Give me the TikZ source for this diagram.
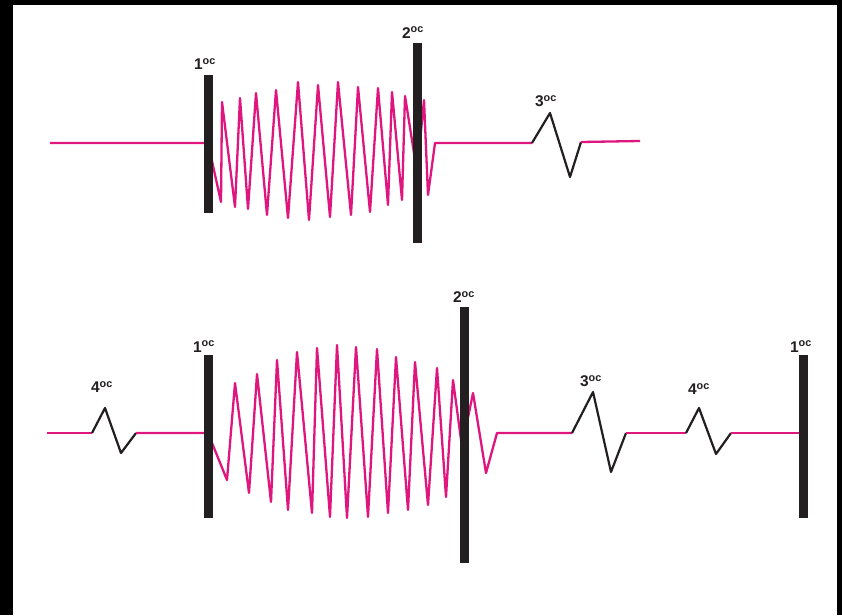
\documentclass[tikz,border=0pt]{standalone}
\usepackage{fontspec}
\setmainfont{Liberation Sans}
\usepackage{xcolor}
\usepackage{tikz}
\definecolor{wavepink}{HTML}{E0167F}
\definecolor{bargrey}{HTML}{231F20}
\usetikzlibrary{positioning}

\begin{document}
\begin{tikzpicture}[x=1pt,y=-1pt,
  bar/.style={fill=bargrey,inner sep=0pt,minimum width=9pt},
  lbl/.style={font=\fontsize{15.5}{15.5}\selectfont\bfseries,inner sep=1pt,text=bargrey},
  wave/.style={draw=wavepink,line width=2.3pt,line join=round},
  kink/.style={draw=bargrey,line width=2.2pt,line join=round}]
% frame
\fill[black] (0,0) rectangle (842,615);
\fill[white] (13,5) rectangle (837,615);
% top row
\coordinate (ta) at (50,143);
\coordinate (t1c) at (208,143);
\coordinate (tk) at (532,143);
\coordinate (tke) at (581,142);
\coordinate (tz) at (640,141);
\draw[wave] (ta) -- (t1c) -- (221,202) -- (222,102) -- (235,207) -- (240,98)
  -- (248,209) -- (256,93) -- (267,215) -- (276,90) -- (288,218) -- (298,82)
  -- (309,220) -- (318,85) -- (330,217) -- (338,82) -- (351,215) -- (358,87)
  -- (370,212) -- (378,88) -- (388,205) -- (392,92) -- (402,200) -- (405,96)
  -- (417,172) -- (424,100) -- (428,195) -- (435,143) -- (tk);
\draw[kink] (tk) -- (550,113) coordinate (tp) -- (570,177) -- (tke);
\draw[wave] (tke) -- (tz);
\node[bar,minimum height=138pt] (t1) at (208,144) {};
\node[bar,minimum height=199pt] (t2) at (417,143) {};
% bottom row
\coordinate (ba) at (47,433);
\coordinate (bk1) at (92,433);
\coordinate (bk1e) at (136,433);
\coordinate (b1c) at (208,433);
\coordinate (bk2) at (572,433);
\coordinate (bk2e) at (626,433);
\coordinate (bk3) at (686,433);
\coordinate (bk3e) at (731,433);
\coordinate (b3c) at (803,433);
\draw[wave] (ba) -- (bk1);
\draw[kink] (bk1) -- (105,408) coordinate (bp1) -- (121,453) -- (bk1e);
\draw[wave] (bk1e) -- (b1c) -- (227,480) -- (235,383) -- (249,493)
  -- (257,374) -- (271,502) -- (277,360) -- (288,510) -- (297,352) -- (312,513)
  -- (317,348) -- (330,517) -- (337,345) -- (347,518) -- (356,347) -- (368,517)
  -- (377,349) -- (388,513) -- (396,357) -- (408,510) -- (415,362) -- (428,505)
  -- (437,368) -- (446,497) -- (453,380) -- (462,447) -- (473,393) -- (486,473)
  -- (497,433) -- (bk2);
\draw[kink] (bk2) -- (593,392) coordinate (bp2) -- (611,472) -- (bk2e);
\draw[wave] (bk2e) -- (bk3);
\draw[kink] (bk3) -- (699,408) coordinate (bp3) -- (716,454) -- (bk3e);
\draw[wave] (bk3e) -- (b3c);
\node[bar,minimum height=163pt] (b1) at (208,436) {};
\node[bar,minimum height=256pt] (b2) at (464,435) {};
\node[bar,minimum height=163pt] (b3) at (803,436) {};
% labels
\node[lbl,above=4pt of t1,xshift=-3pt] (lt1) {1\textsuperscript{oc}};
\node[lbl,above=4pt of t2,xshift=-4pt] (lt2) {2\textsuperscript{oc}};
\node[lbl,above=5pt of tp,xshift=-4pt] (lt3) {3\textsuperscript{oc}};
\node[lbl,above=1pt of b1,xshift=-4pt] (lb1) {1\textsuperscript{oc}};
\node[lbl,above=3pt of b2] (lb2) {2\textsuperscript{oc}};
\node[lbl,above=14pt of bp1,xshift=-3pt] (lb4) {4\textsuperscript{oc}};
\node[lbl,above=4pt of bp2,xshift=-2pt] (lb3) {3\textsuperscript{oc}};
\node[lbl,above=12pt of bp3] (lb5) {4\textsuperscript{oc}};
\node[lbl,above=1pt of b3,xshift=-2pt] (lb6) {1\textsuperscript{oc}};
\end{tikzpicture}
\end{document}
